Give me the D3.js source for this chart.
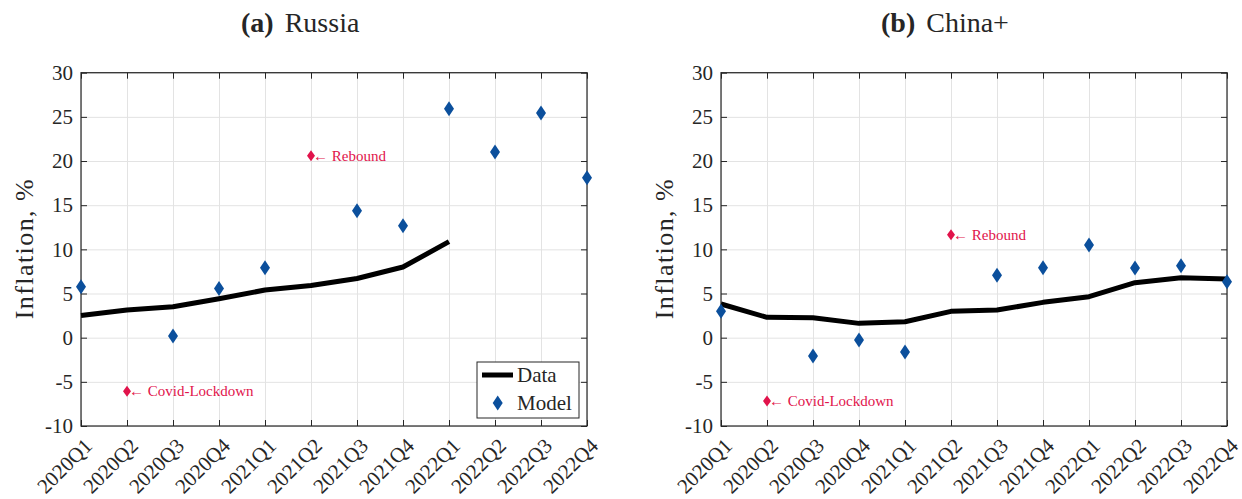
<!DOCTYPE html>
<html>
<head>
<meta charset="utf-8">
<script src="https://cdn.jsdelivr.net/npm/d3@7"></script>
<style>
  body { margin: 0; background: #fff; }
</style>
</head>
<body>
<svg id="chart" width="1242" height="499"></svg>
<script>
// quarters on the x axis
const quarters = ["2020Q1", "2020Q2", "2020Q3", "2020Q4", "2021Q1", "2021Q2",
                  "2021Q3", "2021Q4", "2022Q1", "2022Q2", "2022Q3", "2022Q4"];
const yTicks = [-10, -5, 0, 5, 10, 15, 20, 25, 30];

// Russia
const dataRussia = [2.5, 3.13, 3.5, 4.4, 5.4, 5.9, 6.7, 8.0, 10.87];
const modelRussia = [5.77, -6.07, 0.19, 5.58, 7.92, 20.6, 14.38, 12.68, 25.92, 21.02, 25.43, 18.11];

// China+
const dataChina = [3.81, 2.3, 2.26, 1.62, 1.81, 2.98, 3.13, 4.0, 4.64, 6.23, 6.79, 6.64];
const modelChina = [2.98, -7.17, -2.08, -0.26, -1.62, 11.66, 7.06, 7.92, 10.49, 7.89, 8.15, 6.34];

// highlighted quarters and their notes
const eventQuarters = ["2020Q2", "2021Q2"];
const eventLabels = ["Covid-Lockdown", "Rebound"];

const blue = "#0b4f9c";
const red = "#e1134b";
const serif = "'Liberation Serif', 'DejaVu Serif', serif";
const svg = d3.select("#chart");

const panels = [
    { tag: "(a)", name: "Russia", left: 81, right: 587, data: dataRussia, model: modelRussia, legend: true },
    { tag: "(b)", name: "China+", left: 721, right: 1227, data: dataChina, model: modelChina, legend: false }
];

const yTop = 72.7, yBottom = 426;

function diamond(w, h) {
    return `M0,${-h}L${w},0L0,${h}L${-w},0Z`;
}

panels.forEach((p) => {
    const x = d3.scalePoint().domain(quarters).range([p.left, p.right]);
    const y = d3.scaleLinear().domain([-10, 30]).range([yBottom, yTop]);
    const g = svg.append("g");

    // grid
    g.append("g")
        .attr("class", "grid")
        .attr("transform", `translate(0,${yBottom})`)
        .call(d3.axisBottom(x).tickSize(-(yBottom - yTop)).tickFormat(""));
    g.append("g")
        .attr("class", "grid")
        .attr("transform", `translate(${p.left},0)`)
        .call(d3.axisLeft(y).tickValues(yTicks).tickSize(-(p.right - p.left)).tickFormat(""));
    g.selectAll(".grid line").attr("stroke", "#e3e3e3");

    // axes with inward ticks
    const yAx = g.append("g")
        .attr("class", "ax")
        .attr("transform", `translate(${p.left},0)`)
        .call(d3.axisLeft(y).tickValues(yTicks).tickSizeInner(-6).tickSizeOuter(0).tickPadding(8)
            .tickFormat(d => d < 0 ? "-" + Math.abs(d) : d));
    yAx.selectAll("text").attr("font-size", 21);
    g.append("g")
        .attr("class", "ax")
        .attr("transform", `translate(${p.right},0)`)
        .call(d3.axisRight(y).tickValues(yTicks).tickSizeInner(-6).tickSizeOuter(0).tickFormat(""));
    g.append("g")
        .attr("class", "ax")
        .attr("transform", `translate(0,${yTop})`)
        .call(d3.axisTop(x).tickSizeInner(-6).tickSizeOuter(0).tickFormat(""));
    const xAx = g.append("g")
        .attr("class", "ax")
        .attr("transform", `translate(0,${yBottom})`)
        .call(d3.axisBottom(x).tickSizeInner(-6).tickSizeOuter(0));
    xAx.selectAll("text")
        .attr("font-size", 21)
        .attr("text-anchor", "end")
        .attr("y", 0).attr("dy", 0)
        .attr("transform", "translate(12,21) rotate(-45)");
    g.selectAll(".domain").remove();
    g.selectAll(".ax line").attr("stroke", "#262626");

    // box
    g.append("rect")
        .attr("x", p.left).attr("y", yTop)
        .attr("width", p.right - p.left).attr("height", yBottom - yTop)
        .attr("fill", "none").attr("stroke", "#262626").attr("stroke-width", 1.2);

    // data line
    const line = d3.line().x((d, i) => x(quarters[i])).y(d => y(d));
    g.append("path")
        .datum(p.data)
        .attr("d", line)
        .attr("fill", "none").attr("stroke", "#000").attr("stroke-width", 5)
        .attr("stroke-linejoin", "round");

    // model points
    const pts = p.model.map((v, i) => ({ q: quarters[i], v: v }));
    g.selectAll(".model")
        .data(pts.filter(d => !eventQuarters.includes(d.q)))
        .join("path")
        .attr("class", "model")
        .attr("transform", d => `translate(${x(d.q)},${y(d.v)})`)
        .attr("d", diamond(5, 7.5))
        .attr("fill", blue);

    // event points with notes
    const ev = pts.filter(d => eventQuarters.includes(d.q));
    ev.forEach((d) => {
        g.append("path")
            .attr("transform", `translate(${x(d.q)},${y(d.v)})`)
            .attr("d", diamond(4, 5.5))
            .attr("fill", red);
        g.append("text")
            .attr("class", "note")
            .attr("x", x(d.q) + 2).attr("y", y(d.v) + 5)
            .attr("font-size", 15)
            .text("\u2190 " + eventLabels[eventQuarters.indexOf(d.q)]);
    });

    // y label
    g.append("text")
        .attr("transform", `translate(${p.left - 48},${(yTop + yBottom) / 2}) rotate(-90)`)
        .attr("text-anchor", "middle")
        .attr("font-size", 26)
        .attr("textLength", 140).attr("lengthAdjust", "spacing")
        .text("Inflation, %");

    // title
    const t = g.append("text")
        .attr("x", p.left + 160).attr("y", 32)
        .attr("font-size", 28);
    t.append("tspan").attr("font-weight", "bold").text(p.tag);
    t.append("tspan").attr("dx", 11).text(p.name);

    // legend
    if (p.legend) {
        const lg = g.append("g").attr("transform", `translate(${p.right - 110},362)`);
        lg.append("rect").attr("width", 102).attr("height", 56)
            .attr("fill", "#fff").attr("stroke", "#262626").attr("stroke-width", 1);
        lg.append("line").attr("x1", 5).attr("x2", 36).attr("y1", 13).attr("y2", 13)
            .attr("stroke", "#000").attr("stroke-width", 5);
        lg.append("text").attr("x", 40).attr("y", 20).attr("font-size", 21).text("Data");
        lg.append("path").attr("transform", "translate(20.7,41)").attr("d", diamond(5, 7.5)).attr("fill", blue);
        lg.append("text").attr("x", 40).attr("y", 48).attr("font-size", 21).text("Model");
    }
});

// one serif face for every label
svg.selectAll("text")
    .style("font-family", serif)
    .style("fill", "#262626");
svg.selectAll("text.note").style("fill", red);
</script>
</body>
</html>
